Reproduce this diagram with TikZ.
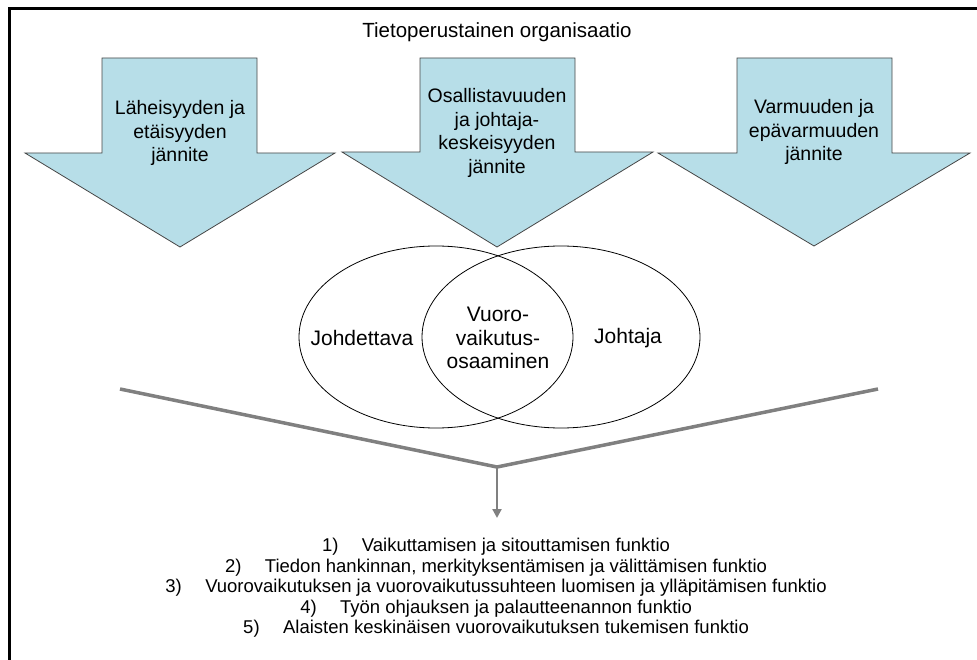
\documentclass[tikz,border=0pt]{standalone}
\usepackage{fontspec}
\setmainfont{Liberation Sans}
\usetikzlibrary{calc,arrows.meta}
\definecolor{aqua}{RGB}{183,222,232}
\definecolor{edge}{RGB}{70,70,70}
\definecolor{graylink}{RGB}{128,128,128}
\tikzset{
  bigarrow/.style={fill=aqua, draw=edge, line width=0.8pt, line join=miter},
  arrowtext/.style={align=center, font=\fontsize{19.5}{23.5}\selectfont, inner sep=0pt},
  circtext/.style={align=center, font=\fontsize{21}{23.5}\selectfont, inner sep=0pt},
  venn/.style={draw=black, line width=0.8pt},
  link/.style={draw=graylink, line width=3.5pt},
  listtext/.style={font=\fontsize{18.5}{21}\selectfont, inner sep=0pt, anchor=base},
  listnum/.style={font=\fontsize{18.5}{21}\selectfont, inner sep=0pt, anchor=base east},
}
\begin{document}
\begin{tikzpicture}[x=1pt,y=-1pt]
\useasboundingbox (0,0) rectangle (977,660);
% frame
\draw[line width=3pt] (9,660) -- (9,9) -- (977,9);
% title
\node[font=\fontsize{20.5}{24}\selectfont, inner sep=0pt] (title) at (497,32) {Tietoperustainen organisaatio};
% three big arrows
\draw[bigarrow] (102,58) -- (257,58) -- (257,153) -- (335,153) -- (180,247) -- (25,153) -- (102,153) -- cycle;
\draw[bigarrow] (420,58) -- (575,58) -- (575,152) -- (653,152) -- (497,247) -- (342,152) -- (420,152) -- cycle;
\draw[bigarrow] (737,58) -- (892,58) -- (892,153) -- (970,153) -- (814,246) -- (658,153) -- (737,153) -- cycle;
\node[arrowtext] (a1) at (180,133) {Läheisyyden ja\\etäisyyden\\jännite};
\node[arrowtext] (a2) at (497,133) {Osallistavuuden\\ja johtaja-\\keskeisyyden\\jännite};
\node[arrowtext] (a3) at (814,132) {Varmuuden ja\\epävarmuuden\\jännite};
% venn
\draw[venn] (436,337) ellipse [x radius=137, y radius=91];
\draw[venn] (561,337) ellipse [x radius=139, y radius=91];
\node[circtext] (johdettava) at (362,338) {Johdettava};
\node[circtext] (johtaja) at (628,338) {Johtaja};
\node[circtext] (vuoro) at (498,338) {Vuoro-\\vaikutus-\\osaaminen};
% gray connector
\coordinate (lstart) at (120,389);
\coordinate (join) at (497,467);
\coordinate (rend) at (878,389);
\coordinate (aend) at (497,518);
\draw[link, line join=miter] (lstart) -- (join) -- (rend);
\draw[draw=graylink, line width=2.5pt, -{Triangle[length=9pt,width=9pt]}] (join) -- (aend);
% list
\node[listtext] (t1) at (516,551) {Vaikuttamisen ja sitouttamisen funktio};
\node[listtext] (t2) at (516,572) {Tiedon hankinnan, merkityksentämisen ja välittämisen funktio};
\node[listtext] (t3) at (516,592) {Vuorovaikutuksen ja vuorovaikutussuhteen luomisen ja ylläpitämisen funktio};
\node[listtext] (t4) at (516,613) {Työn ohjauksen ja palautteenannon funktio};
\node[listtext] (t5) at (516,633) {Alaisten keskinäisen vuorovaikutuksen tukemisen funktio};
\node[listnum] (n1) at ($(t1.base west)+(-23,0)$) {1)};
\node[listnum] (n2) at ($(t2.base west)+(-23,0)$) {2)};
\node[listnum] (n3) at ($(t3.base west)+(-23,0)$) {3)};
\node[listnum] (n4) at ($(t4.base west)+(-23,0)$) {4)};
\node[listnum] (n5) at ($(t5.base west)+(-23,0)$) {5)};
\end{tikzpicture}
\end{document}
